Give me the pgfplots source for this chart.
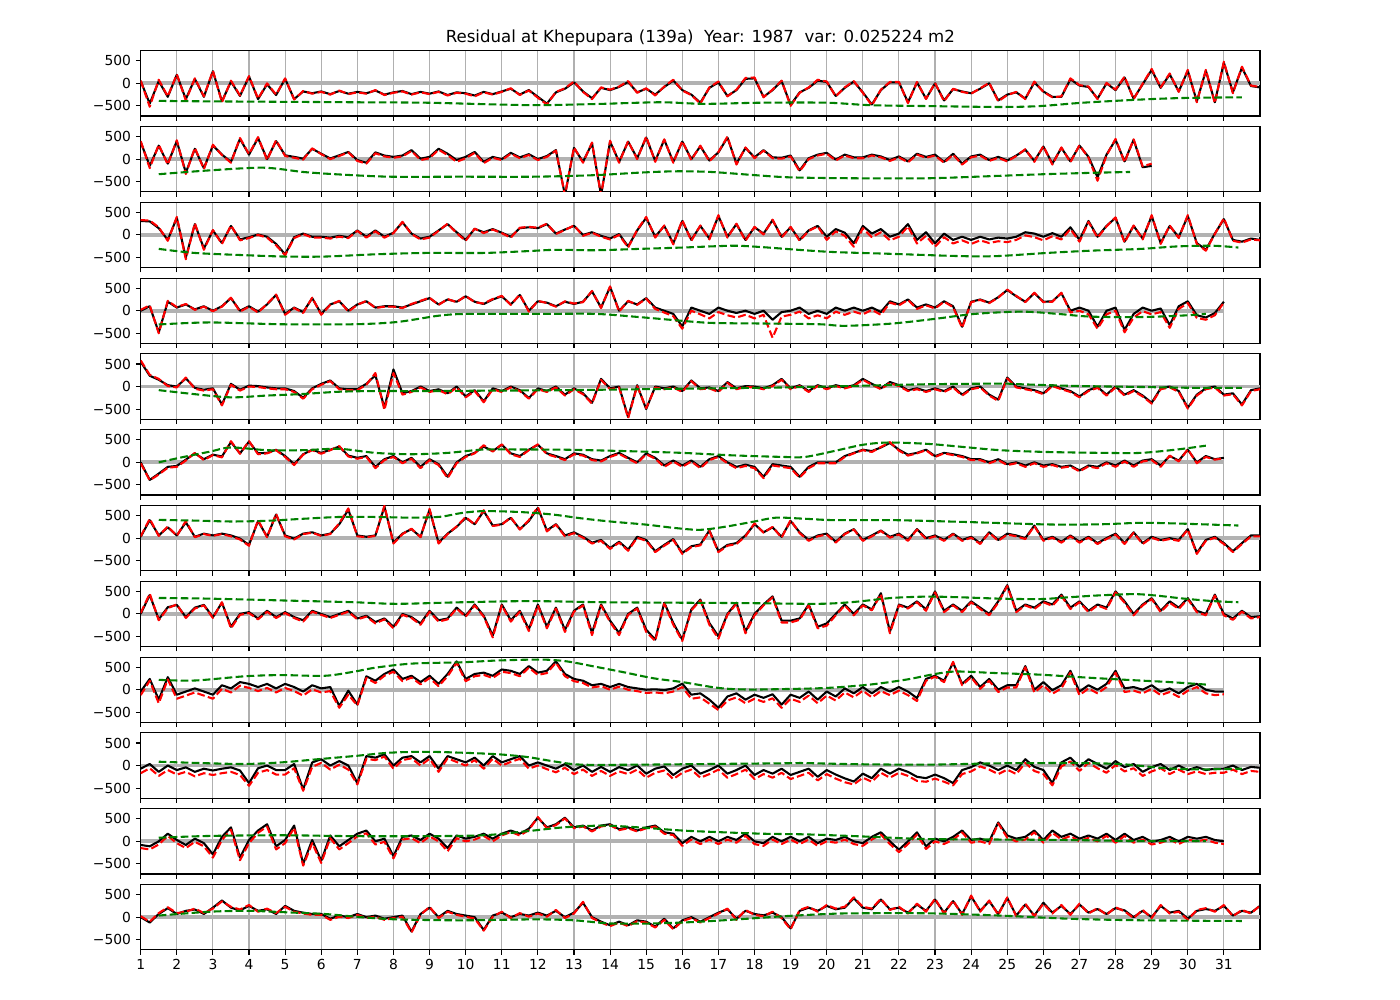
\documentclass[border=0pt]{standalone}
\usepackage{fontspec}
\setmainfont{DejaVu Sans}
\usepackage{pgfplots}
\usepackage{pgfplotstable}
\pgfplotsset{compat=1.18}
\definecolor{zerogray}{rgb}{0.7,0.7,0.7}
\definecolor{gridgray}{rgb}{0.69,0.69,0.69}
\definecolor{mplgreen}{rgb}{0,0.5,0}
\pgfplotsset{panel/.style={width=11.193in,height=0.653in,scale only axis,
 xmin=1,xmax=32,ymin=-725,ymax=725,
 xtick={1,...,31}, ytick={-500,0,500}, yticklabels={−500,0,500},
 xmajorgrids, major grid style={gridgray,line width=0.8pt},
 tick align=outside, tick pos=left, major tick length=3.5pt,
 every tick/.style={black,line width=0.8pt},
 axis line style={line width=0.8pt},
 tick label style={font=\fontsize{10}{12}\selectfont},
 anchor=north west}}

\pgfplotstableread[row sep=\\]{b r\\
50 60\\-450 -520\\50 80\\-300 -290\\
190 200\\-350 -380\\100 110\\-300 -290\\
270 280\\-400 -420\\40 60\\-280 -270\\
150 160\\-350 -340\\-20 0\\-260 -250\\
100 110\\-350 -360\\-180 -170\\-220 -230\\
-180 -190\\-240 -250\\-170 -160\\-230 -240\\
-190 -200\\-220 -230\\-160 -150\\-250 -260\\
-200 -210\\-170 -180\\-240 -250\\-190 -200\\
-230 -240\\-180 -190\\-260 -270\\-200 -210\\
-220 -230\\-270 -290\\-190 -200\\-240 -250\\
-180 -190\\-120 -110\\-250 -260\\-150 -160\\
-300 -320\\-450 -470\\-200 -190\\-120 -110\\
20 40\\-180 -190\\-330 -350\\-100 -90\\
-150 -140\\-80 -70\\30 50\\-200 -210\\
-120 -110\\-250 -270\\-80 -70\\60 80\\
-150 -160\\-250 -260\\-430 -450\\-100 -90\\
20 40\\-280 -290\\-150 -140\\100 120\\
110 130\\-300 -310\\-150 -140\\50 60\\
-480 -500\\-200 -210\\-100 -90\\60 80\\
30 40\\-280 -290\\-100 -90\\40 50\\
-200 -210\\-470 -490\\-150 -140\\20 30\\
20 30\\-420 -440\\20 30\\-340 -350\\
0 10\\-380 -400\\-130 -120\\-180 -190\\
-220 -230\\-120 -110\\0 10\\-380 -400\\
-250 -260\\-200 -190\\-340 -350\\20 40\\
-180 -190\\-300 -310\\-300 -290\\90 110\\
-50 -40\\-80 -70\\-340 -350\\0 10\\
-150 -140\\130 150\\-340 -350\\-20 -10\\
300 320\\-100 -90\\200 220\\-180 -190\\
280 300\\-400 -420\\280 300\\-420 -440\\
460 480\\-200 -220\\350 370\\-60 -50\\
-90 -80\\
}\janT

\pgfplotstableread[row sep=\\]{b r\\
380 400\\-150 -200\\300 320\\-100 -120\\
400 420\\-300 -330\\230 250\\-200 -220\\
300 320\\100 90\\-60 -80\\450 470\\
100 110\\470 490\\0 -20\\400 420\\
85 70\\50 30\\10 -10\\230 240\\
120 110\\15 0\\85 70\\160 150\\
-20 -40\\-80 -100\\150 130\\80 60\\
50 30\\80 60\\200 180\\10 -20\\
50 20\\230 210\\120 90\\-20 -60\\
50 20\\160 140\\-60 -90\\50 30\\
0 -20\\140 120\\40 20\\110 90\\
0 -20\\70 50\\200 190\\-800 -800\\
250 260\\-60 -80\\350 370\\-800 -800\\
390 410\\-60 -80\\390 400\\20 0\\
480 500\\-40 -60\\430 440\\-60 -80\\
390 400\\0 -20\\285 300\\-30 -50\\
150 160\\480 500\\-100 -120\\250 260\\
40 20\\200 190\\40 20\\30 10\\
80 60\\-250 -270\\20 0\\100 80\\
140 120\\-10 -30\\100 80\\40 20\\
40 20\\100 80\\60 40\\-20 -40\\
60 40\\-50 -70\\120 100\\50 30\\
100 80\\-60 -80\\120 100\\-100 -120\\
60 40\\100 80\\-20 -40\\50 30\\
-30 -50\\80 70\\210 220\\-40 -60\\
280 290\\-100 -120\\250 260\\-50 -70\\
300 310\\50 30\\-400 -480\\100 80\\
430 450\\-50 -70\\430 440\\-180 -160\\
-150 -100\\
}\febT

\pgfplotstableread[row sep=\\]{b r\\
310 330\\300 320\\150 170\\-110 -130\\
380 400\\-500 -540\\240 260\\-300 -330\\
100 110\\-180 -200\\200 210\\-100 -120\\
-50 -70\\10 0\\-40 -60\\-200 -230\\
-430 -450\\-50 -70\\30 20\\-40 -60\\
-40 -60\\-60 -80\\-20 -40\\-50 -70\\
100 90\\-40 -60\\100 80\\-40 -60\\
50 40\\280 290\\30 20\\-80 -100\\
-40 -60\\100 90\\240 250\\60 40\\
-110 -130\\135 140\\60 40\\130 120\\
50 40\\-40 -60\\150 160\\170 180\\
150 160\\240 250\\30 20\\120 110\\
200 210\\0 -20\\60 50\\-20 -40\\
-80 -100\\20 0\\-255 -280\\100 110\\
380 400\\-40 -60\\200 210\\-185 -210\\
310 330\\-110 -130\\200 210\\-80 -100\\
420 440\\-40 -60\\240 250\\-110 -130\\
170 180\\30 10\\330 340\\-40 -60\\
170 180\\-110 -130\\100 90\\200 190\\
-40 -110\\130 80\\50 -20\\-185 -260\\
200 150\\30 -50\\130 60\\-40 -120\\
30 -40\\240 190\\-110 -190\\60 -20\\
-185 -260\\30 -50\\-110 -190\\-40 -120\\
-110 -200\\-40 -120\\-100 -180\\-60 -140\\
-80 -160\\-40 -110\\60 -10\\30 -50\\
-40 -120\\40 -30\\-40 -100\\170 130\\
-110 -150\\310 290\\-40 -60\\200 190\\
380 390\\-150 -170\\200 210\\-80 -100\\
420 440\\-180 -200\\200 210\\-50 -70\\
420 440\\-180 -200\\-330 -350\\30 20\\
350 370\\-110 -130\\-150 -170\\-80 -100\\
-110 -120\\
}\marT

\pgfplotstableread[row sep=\\]{b r\\
0 20\\100 120\\-480 -500\\200 220\\
70 80\\140 150\\30 20\\100 90\\
0 -10\\100 90\\280 290\\0 -20\\
100 90\\-20 -40\\140 150\\350 360\\
-70 -90\\70 60\\-30 -50\\280 290\\
-70 -90\\140 130\\210 220\\0 -20\\
140 130\\210 220\\70 60\\100 90\\
100 90\\70 60\\140 150\\210 220\\
280 290\\140 130\\250 260\\200 190\\
320 330\\200 190\\150 160\\250 260\\
320 330\\140 130\\350 360\\0 -20\\
210 220\\180 170\\100 90\\200 210\\
150 160\\200 190\\430 440\\70 60\\
530 540\\0 -20\\210 220\\140 130\\
280 270\\70 40\\0 -40\\-70 -120\\
-350 -400\\70 0\\0 -80\\-70 -170\\
70 -30\\0 -100\\-50 -150\\0 -90\\
-70 -170\\0 -90\\-200 -600\\-30 -130\\
0 -90\\70 -20\\-70 -170\\0 -100\\
-70 -170\\70 -20\\0 -90\\70 -20\\
0 -80\\70 20\\-30 -90\\210 180\\
140 120\\250 240\\70 40\\140 120\\
70 50\\210 200\\100 80\\-355 -380\\
200 190\\250 240\\180 170\\300 290\\
460 470\\320 330\\200 190\\390 400\\
200 190\\210 200\\390 400\\0 -40\\
70 0\\0 -80\\-355 -400\\0 -80\\
70 0\\-425 -480\\-70 -150\\70 -10\\
0 -80\\50 -30\\-320 -380\\100 40\\
210 170\\-100 -160\\-150 -200\\-50 -100\\
200 180\\
}\aprT

\pgfplotstableread[row sep=\\]{b r\\
550 580\\240 260\\150 170\\30 10\\
0 -20\\180 200\\-30 -50\\-70 -90\\
-40 -60\\-400 -420\\60 40\\-70 -90\\
20 0\\10 -10\\-20 -40\\-40 -60\\
-40 -60\\-100 -120\\-250 -270\\-40 -60\\
60 40\\135 120\\-40 -60\\-60 -80\\
-60 -80\\60 40\\250 300\\-470 -520\\
380 300\\-150 -180\\-100 -120\\0 -20\\
-100 -120\\-60 -80\\-150 -170\\0 -20\\
-220 -240\\-80 -100\\-330 -350\\-40 -60\\
-100 -120\\0 -20\\-80 -100\\-255 -270\\
-40 -60\\-100 -120\\0 -20\\-180 -200\\
-40 -60\\-150 -170\\-360 -380\\170 150\\
-40 -60\\0 -20\\-680 -700\\30 10\\
-500 -480\\0 -20\\-40 -60\\0 -20\\
-100 -120\\135 120\\-40 -60\\-20 -40\\
-100 -120\\100 80\\-40 -60\\10 -10\\
0 -20\\-40 -60\\30 10\\170 150\\
-40 -60\\30 10\\-100 -120\\30 10\\
-40 -60\\30 10\\-20 -40\\30 10\\
170 150\\60 40\\-40 -60\\100 80\\
30 10\\-80 -100\\-40 -60\\-100 -120\\
-40 -60\\-100 -120\\0 -20\\-180 -200\\
-40 -60\\0 -20\\-180 -200\\-290 -320\\
200 180\\0 -20\\-40 -60\\-80 -100\\
-150 -170\\30 10\\-40 -60\\-100 -120\\
-220 -240\\-80 -100\\-10 -30\\-180 -200\\
0 -20\\-180 -200\\-80 -100\\-200 -220\\
-360 -380\\-40 -60\\0 -20\\-100 -120\\
-470 -490\\-180 -200\\-40 -60\\0 -20\\
-180 -200\\-150 -170\\-400 -420\\-80 -100\\
-40 -60\\
}\mayT

\pgfplotstableread[row sep=\\]{b r\\
0 -20\\-390 -400\\-250 -270\\-100 -120\\
-80 -100\\60 40\\200 210\\70 50\\
170 160\\130 110\\450 470\\200 190\\
460 470\\200 180\\210 200\\280 270\\
140 120\\-40 -60\\180 170\\280 270\\
210 190\\280 270\\350 360\\150 130\\
100 80\\140 120\\-100 -130\\70 50\\
140 120\\0 -20\\100 80\\-100 -130\\
70 50\\-40 -60\\-320 -350\\0 -20\\
140 120\\210 200\\350 380\\250 240\\
390 400\\200 180\\140 120\\280 270\\
390 400\\200 180\\140 120\\70 50\\
200 180\\170 150\\70 50\\40 20\\
140 120\\210 190\\100 80\\0 -20\\
200 180\\100 80\\-70 -100\\40 20\\
-70 -100\\40 20\\-100 -130\\70 50\\
140 120\\0 -20\\-100 -130\\-50 -80\\
-100 -130\\-320 -350\\-40 -70\\-70 -100\\
-100 -130\\-320 -340\\-100 -130\\0 -20\\
0 -20\\0 -20\\140 120\\210 200\\
280 270\\250 230\\330 340\\430 450\\
280 260\\170 150\\210 200\\280 270\\
140 120\\210 200\\180 160\\140 120\\
70 50\\70 50\\0 -20\\70 50\\
-40 -60\\0 -20\\-70 -100\\0 -20\\
-70 -100\\-40 -60\\-100 -120\\-70 -90\\
-180 -200\\-70 -90\\-100 -130\\0 -20\\
-70 -100\\40 20\\-70 -100\\40 20\\
70 50\\-70 -100\\140 150\\40 20\\
280 290\\0 -20\\140 120\\70 60\\
100 90\\
}\junT

\pgfplotstableread[row sep=\\]{b r\\
30 40\\400 430\\60 50\\240 260\\
60 50\\350 380\\30 20\\100 90\\
60 50\\100 90\\60 40\\-10 -30\\
-150 -170\\380 400\\30 20\\525 540\\
60 40\\-10 -30\\100 90\\130 120\\
60 50\\100 90\\310 330\\630 660\\
60 40\\30 20\\60 50\\700 720\\
-100 -120\\100 90\\200 210\\30 20\\
630 650\\-100 -120\\100 90\\250 260\\
450 470\\310 300\\600 620\\280 270\\
310 300\\450 460\\200 190\\380 400\\
670 690\\170 150\\310 300\\60 40\\
130 110\\30 10\\-100 -120\\-40 -60\\
-220 -240\\-80 -100\\-255 -280\\30 10\\
-40 -60\\-290 -310\\-150 -170\\-20 -40\\
-330 -350\\-180 -200\\-140 -160\\170 160\\
-290 -310\\-150 -170\\-110 -130\\60 40\\
310 330\\130 120\\240 250\\30 10\\
380 400\\130 110\\-40 -60\\60 40\\
100 80\\-80 -100\\100 90\\200 190\\
-40 -60\\60 40\\170 160\\30 10\\
100 80\\-40 -60\\200 190\\0 -20\\
60 40\\-40 -60\\100 90\\-40 -60\\
30 10\\-110 -130\\130 120\\-40 -60\\
100 80\\60 40\\0 -20\\280 270\\
-40 -60\\30 10\\-80 -100\\60 40\\
-80 -100\\30 10\\-110 -130\\0 -20\\
100 80\\-110 -130\\130 120\\-110 -130\\
30 10\\-40 -60\\0 -20\\-40 -60\\
200 190\\-330 -350\\-40 -60\\30 10\\
-110 -130\\-290 -310\\-110 -130\\60 40\\
60 40\\
}\julT

\pgfplotstableread[row sep=\\]{b r\\
0 20\\420 450\\-120 -140\\150 130\\
200 210\\-70 -90\\140 120\\200 190\\
-70 -90\\250 260\\-285 -320\\0 -20\\
40 20\\-100 -120\\70 50\\-70 -90\\
40 20\\-70 -90\\-140 -170\\70 50\\
0 -20\\-70 -90\\0 -20\\70 50\\
-100 -120\\-40 -60\\-180 -210\\-100 -120\\
-285 -320\\0 -20\\-70 -90\\-210 -240\\
70 50\\-140 -170\\-100 -120\\140 120\\
-40 -60\\210 190\\-40 -60\\-480 -520\\
210 190\\-140 -170\\70 50\\-340 -380\\
210 190\\-285 -320\\140 120\\-355 -400\\
70 50\\210 190\\-420 -470\\210 190\\
-150 -180\\-425 -470\\0 -20\\140 120\\
-350 -400\\-570 -600\\250 230\\-200 -240\\
-570 -600\\100 80\\320 300\\-200 -240\\
-500 -550\\0 -20\\250 230\\-390 -430\\
0 -30\\210 190\\390 370\\-150 -190\\
-150 -190\\-100 -130\\210 190\\-285 -320\\
-210 -260\\0 -30\\210 190\\0 -30\\
210 190\\100 80\\460 440\\-390 -430\\
210 190\\140 120\\280 260\\100 70\\
500 480\\70 40\\210 190\\70 40\\
280 260\\140 110\\0 -30\\280 250\\
640 620\\70 40\\210 190\\140 110\\
280 260\\210 180\\430 400\\140 110\\
280 260\\70 40\\210 190\\140 110\\
500 480\\280 250\\0 -30\\210 190\\
350 330\\70 40\\280 250\\140 110\\
350 330\\70 40\\0 -30\\430 410\\
0 -30\\-100 -130\\70 50\\-70 -100\\
-50 -70\\
}\augT

\pgfplotstableread[row sep=\\]{b r\\
-40 -120\\240 200\\-220 -300\\280 230\\
-110 -200\\-40 -130\\30 -60\\-40 -130\\
-110 -200\\100 20\\30 -60\\170 90\\
130 40\\60 -30\\130 40\\30 -60\\
130 40\\60 -30\\-40 -130\\100 10\\
30 -60\\60 -30\\-360 -400\\-20 -110\\
-330 -350\\300 260\\200 150\\350 310\\
450 400\\240 190\\310 270\\170 120\\
310 260\\130 80\\350 300\\630 600\\
240 190\\350 300\\380 330\\310 260\\
450 400\\420 370\\350 300\\525 490\\
380 330\\420 370\\630 600\\350 300\\
240 190\\200 150\\100 50\\130 80\\
60 0\\130 70\\60 0\\30 -30\\
0 -70\\10 -60\\-10 -80\\30 -40\\
135 60\\-110 -200\\-80 -170\\-220 -310\\
-400 -450\\-150 -240\\-80 -170\\-220 -300\\
-110 -200\\-180 -270\\-100 -190\\-330 -400\\
-110 -200\\-180 -270\\-40 -130\\-220 -300\\
-40 -130\\-150 -240\\30 -60\\-80 -170\\
60 -20\\-80 -170\\60 -30\\-40 -120\\
60 -20\\-40 -120\\-185 -250\\240 200\\
310 290\\200 170\\600 620\\130 100\\
310 280\\60 20\\240 200\\0 -50\\
100 50\\100 50\\525 500\\0 -60\\
170 100\\-10 -90\\100 30\\420 380\\
-40 -120\\100 30\\0 -80\\130 60\\
420 380\\30 -50\\60 -20\\0 -80\\
100 20\\-40 -120\\30 -50\\-80 -160\\
60 -20\\130 60\\0 -80\\-40 -120\\
-40 -100\\
}\sepT

\pgfplotstableread[row sep=\\]{b r\\
-70 -170\\35 -60\\-140 -230\\0 -100\\
-100 -200\\-40 -140\\-140 -240\\-70 -170\\
-110 -210\\-70 -170\\-40 -140\\-110 -210\\
-390 -450\\-60 -160\\0 -100\\-100 -200\\
-100 -200\\35 -60\\-530 -560\\70 -30\\
140 60\\0 -90\\100 20\\0 -90\\
-390 -420\\210 150\\175 120\\250 200\\
0 -70\\175 120\\210 160\\70 0\\
210 150\\-70 -140\\210 160\\140 80\\
70 0\\175 120\\0 -70\\210 150\\
70 0\\140 80\\210 150\\0 -70\\
70 0\\0 -80\\-70 -150\\35 -50\\
-100 -190\\0 -90\\-140 -230\\-30 -120\\
-140 -230\\-35 -130\\-100 -190\\0 -90\\
-180 -270\\-70 -160\\-20 -110\\-210 -300\\
-70 -160\\0 -90\\-180 -270\\-100 -190\\
0 -90\\-180 -270\\-100 -190\\0 -90\\
-210 -300\\-100 -190\\-180 -270\\-70 -160\\
-210 -300\\-140 -230\\-70 -160\\-250 -330\\
-100 -190\\-200 -290\\-285 -370\\-355 -420\\
-180 -270\\-280 -360\\-70 -160\\-180 -270\\
-70 -160\\-140 -230\\-250 -340\\-280 -360\\
-200 -290\\-280 -360\\-390 -440\\-100 -190\\
-35 -130\\70 -20\\0 -90\\-100 -190\\
0 -90\\-100 -190\\140 60\\-30 -120\\
-100 -190\\-390 -440\\70 -20\\175 90\\
-30 -120\\140 60\\35 -60\\-70 -160\\
100 10\\-35 -130\\35 -60\\-140 -230\\
-35 -130\\35 -60\\-100 -190\\0 -90\\
-100 -190\\-35 -130\\-100 -190\\-70 -160\\
-70 -160\\0 -90\\-100 -190\\-30 -120\\
-50 -140\\
}\octT

\pgfplotstableread[row sep=\\]{b r\\
-80 -150\\-110 -180\\0 -70\\170 120\\
30 -40\\-80 -150\\60 -10\\-40 -110\\
-290 -360\\100 30\\310 260\\-360 -420\\
30 -40\\240 190\\380 330\\-110 -180\\
30 -40\\350 300\\-500 -540\\30 -40\\
-430 -480\\130 70\\-110 -180\\30 -40\\
170 110\\240 180\\0 -70\\60 -10\\
-330 -380\\100 40\\130 70\\30 -40\\
170 110\\60 0\\-150 -220\\130 70\\
60 0\\100 40\\170 120\\60 0\\
170 130\\240 210\\170 130\\280 250\\
525 540\\310 290\\380 360\\525 510\\
310 290\\350 330\\240 220\\350 330\\
380 360\\270 250\\310 290\\240 220\\
310 290\\350 330\\200 170\\170 140\\
-40 -100\\100 40\\0 -60\\100 40\\
0 -60\\100 40\\30 -30\\170 120\\
0 -60\\-40 -100\\100 40\\0 -60\\
100 40\\0 -60\\100 40\\-40 -100\\
60 0\\30 -30\\100 40\\0 -60\\
-40 -100\\100 40\\200 150\\0 -60\\
-185 -240\\0 -60\\200 150\\-110 -170\\
60 0\\0 -60\\100 40\\240 200\\
30 -30\\60 0\\0 -60\\420 400\\
130 80\\60 0\\100 40\\240 200\\
30 -30\\240 190\\100 40\\170 120\\
60 0\\130 80\\60 0\\170 120\\
30 -30\\170 120\\30 -30\\100 40\\
-10 -70\\30 -30\\100 40\\0 -60\\
100 40\\60 0\\100 40\\30 -30\\
0 -60\\
}\novT

\pgfplotstableread[row sep=\\]{b r\\
0 20\\-120 -100\\70 90\\200 220\\
70 90\\140 120\\170 190\\70 90\\
210 190\\370 350\\210 230\\150 170\\
250 270\\140 120\\175 190\\70 90\\
250 230\\140 120\\100 80\\70 50\\
70 50\\-35 -60\\35 10\\0 -20\\
70 50\\0 -20\\35 10\\-35 -60\\
0 -20\\35 10\\-320 -340\\70 50\\
210 230\\0 -20\\140 120\\70 50\\
35 10\\0 -30\\-285 -300\\35 10\\
100 120\\0 -20\\70 90\\35 10\\
100 80\\35 10\\140 160\\0 -20\\
100 80\\320 340\\0 -20\\-100 -120\\
-180 -200\\-100 -120\\-180 -200\\-70 -90\\
-100 -120\\-210 -230\\-35 -60\\-250 -270\\
-70 -90\\0 -20\\-100 -120\\0 -20\\
100 80\\175 190\\-35 -60\\140 160\\
70 50\\40 20\\100 120\\0 -20\\
-250 -270\\140 160\\210 230\\140 120\\
250 270\\175 190\\210 230\\420 440\\
210 230\\175 190\\390 410\\175 160\\
210 230\\100 80\\280 300\\140 120\\
390 410\\100 80\\355 370\\70 50\\
460 480\\140 120\\355 370\\70 50\\
425 440\\35 20\\280 300\\35 20\\
320 300\\100 80\\250 270\\70 50\\
280 300\\100 80\\180 200\\70 50\\
200 220\\150 130\\0 -20\\140 160\\
0 -20\\250 270\\100 80\\140 120\\
-35 -60\\140 160\\180 200\\140 120\\
250 270\\35 20\\140 160\\100 80\\
250 260\\
}\decT

\newcommand{\panel}[6]{%
\begin{axis}[panel,at={(1.407in,#1in)},#6]
\addplot[zerogray,line width=2.7pt] coordinates {(1,0) (#5,0)};
\addplot[black,line width=1.5pt,line join=round] table[x expr=1+\coordindex/4,y=b]{#2};
\addplot[red,line width=1.5pt,line join=round,dash pattern=on 5.55pt off 2.4pt] table[x expr=1+\coordindex/4,y=r]{#2};
\addplot[mplgreen,line width=1.5pt,dash pattern=on 5.55pt off 2.4pt,smooth] coordinates {#3};
\node[anchor=west,font=\fontsize{10}{12}\selectfont,xshift=0.11in] at (rel axis cs:1,0.5) {#4};
\end{axis}}

\begin{document}
\begin{tikzpicture}
\useasboundingbox (0,0) rectangle (14in,10in);
\node[anchor=base,font=\fontsize{12}{14}\selectfont] at (7.0035in,9.576in) {Residual at Khepupara (139a)\ \ Year: 1987\ \ var: 0.025224 m2};

\panel{9.493}{\janT}{(1.5,-390)(2.9,-400)(4.9,-410)(6.9,-420)(8.9,-430)(10.9,-470)(12.1,-485)(13.8,-455)(15.4,-420)(16.6,-455)(18.2,-430)(20,-430)(21.2,-485)(22.8,-505)(24.8,-525)(25.9,-505)(27.1,-430)(28.7,-360)(29.9,-325)(31.5,-310)}{Jan}{32}{xticklabels={}}

\panel{8.735}{\febT}{(1.5,-335)(2.9,-250)(4.4,-190)(5.5,-285)(6.5,-340)(7.9,-390)(9.9,-390)(11.9,-390)(13.6,-355)(14.8,-300)(15.8,-270)(16.8,-285)(18,-355)(19,-405)(20.8,-425)(22.8,-425)(24.8,-370)(26,-335)(27.3,-305)(28.4,-285)}{Feb}{29}{xticklabels={}}

\panel{7.977}{\marT}{(1.5,-310)(2.5,-400)(3.9,-450)(5,-480)(6.1,-480)(7.5,-430)(8.9,-400)(10.5,-400)(11.7,-360)(12.5,-330)(13.6,-340)(14.8,-310)(16,-280)(17.4,-240)(18.2,-270)(19.2,-330)(20.2,-380)(21.8,-420)(23.7,-470)(24.7,-470)(26.1,-400)(27.3,-350)(28.7,-310)(29.7,-255)(30.7,-240)(31.4,-280)}{Mar}{32}{xticklabels={}}

\panel{7.219}{\aprT}{(1.5,-305)(2.9,-260)(4.9,-300)(6.9,-300)(8.1,-250)(9.3,-105)(10.1,-70)(12.1,-70)(13.6,-70)(14.8,-140)(15.8,-210)(16.8,-270)(18.4,-285)(19.8,-300)(20.5,-335)(21.8,-285)(23,-180)(24.1,-70)(25.4,-20)(26.4,-70)(27.3,-130)(28.7,-140)(29.9,-105)(30.5,-70)}{Apr}{31}{xticklabels={}}

\panel{6.461}{\mayT}{(1.5,-80)(2.5,-170)(3.5,-240)(4.5,-200)(5.5,-165)(6.5,-115)(7.5,-100)(8.9,-100)(10.9,-90)(12.8,-80)(14.8,-60)(16.8,-40)(18.8,-20)(20.8,15)(22.7,50)(24.8,65)(25.4,50)(26.8,15)(28.7,-10)(30.3,-30)(31.5,-30)}{May}{32}{xticklabels={}}

\panel{5.703}{\junT}{(1.5,0)(2.1,105)(2.9,235)(3.5,330)(4.5,270)(5.5,270)(6.5,300)(7.5,210)(8.5,180)(9.5,210)(10.5,285)(11.5,285)(12.8,280)(14.4,250)(16,210)(17.4,155)(18.8,120)(19.4,120)(20.2,250)(21,390)(21.7,440)(22.8,410)(23.8,340)(24.8,270)(26.1,230)(27.7,210)(28.7,210)(29.7,285)(30.5,370)}{Jun}{31}{xticklabels={}}

\panel{4.945}{\julT}{(1.5,405)(2.5,390)(3.5,370)(4.5,385)(5.5,430)(6.5,470)(7.5,470)(8.5,455)(9.3,475)(9.9,560)(10.5,600)(11.5,580)(12.4,525)(13.2,440)(14,370)(15,300)(15.8,225)(16.5,185)(17.2,255)(18,370)(18.6,455)(19.4,430)(20.2,400)(21.8,400)(23.8,360)(25.8,310)(26.7,300)(27.7,310)(28.7,340)(29.7,325)(31.4,280)}{Jul}{32}{xticklabels={}}

\panel{4.187}{\augT}{(1.5,355)(2.9,340)(4.9,300)(6.9,260)(8.1,225)(9.9,260)(11.8,285)(13.8,260)(15.8,250)(17.8,240)(19.8,225)(20.8,270)(21.8,355)(22.8,385)(23.7,370)(24.8,340)(25.9,330)(26.7,370)(27.5,410)(28.5,440)(29.1,410)(29.9,340)(30.7,285)(31.4,260)}{Aug}{32}{xticklabels={}}

\panel{3.429}{\sepT}{(1.5,220)(2.5,205)(3.9,300)(4.9,325)(6.1,310)(6.9,400)(7.5,490)(8.5,580)(9.9,610)(10.9,650)(12.1,670)(12.8,630)(13.6,510)(14.4,385)(15.2,255)(16,170)(17,40)(17.8,5)(18.8,15)(20,40)(21.2,115)(22.2,225)(23,350)(23.6,405)(24.7,370)(25.9,335)(27.1,275)(28.3,220)(29.5,170)(30.5,115)}{Sep}{31}{xticklabels={}}

\panel{2.671}{\octT}{(1.5,85)(2.9,50)(3.9,35)(4.9,70)(5.9,140)(6.9,210)(7.9,285)(8.9,305)(9.9,285)(10.9,250)(11.7,190)(12.5,85)(13.2,20)(14.8,20)(16.8,35)(18.8,50)(19.4,55)(20.8,30)(22.8,20)(24.8,50)(26.7,55)(28.1,35)(29.3,-55)(30.3,-85)(31.5,-70)}{Oct}{32}{xticklabels={}}

\panel{1.913}{\novT}{(1.5,80)(2.9,120)(4.9,135)(6.9,115)(8.9,115)(10.5,135)(11.7,225)(12.7,310)(13.8,350)(14.8,310)(16,240)(17,205)(18.2,170)(19.4,155)(20.8,115)(21.8,80)(22.8,50)(24.8,40)(26.7,30)(28.7,5)(30.5,5)}{Nov}{31}{xticklabels={}}

\panel{1.155}{\decT}{(1.5,35)(2.9,120)(4,140)(5.1,105)(6.1,70)(7.1,0)(8.1,-50)(9.9,-70)(11.9,-50)(13,-70)(14,-140)(15.2,-140)(16.4,-105)(17.8,-35)(18.8,20)(20,70)(20.8,85)(22.8,85)(24.8,35)(26.7,-35)(28.7,-70)(31.5,-85)}{Dec}{32}{xticklabels={1,2,3,4,5,6,7,8,9,10,11,12,13,14,15,16,17,18,19,20,21,22,23,24,25,26,27,28,29,30,31}}
\end{tikzpicture}
\end{document}
